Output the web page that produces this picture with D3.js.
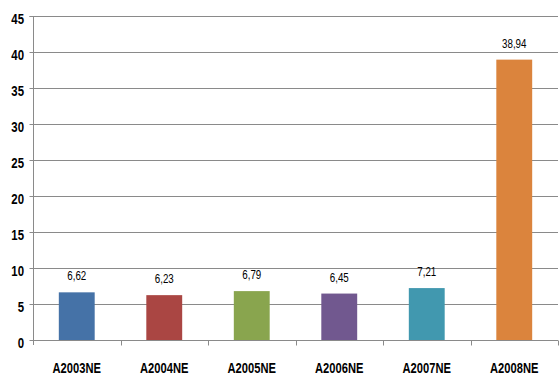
<!DOCTYPE html>
<html><head><meta charset="utf-8">
<script src="https://cdn.jsdelivr.net/npm/d3@7"></script>
<style>html,body{margin:0;padding:0;background:#fff;}svg{display:block;}</style>
</head><body>
<svg id="c" width="559" height="376"></svg>
<script>
const categories = ["A2003NE","A2004NE","A2005NE","A2006NE","A2007NE","A2008NE"];
const values = [6.62, 6.23, 6.79, 6.45, 7.21, 38.94];
const valueLabels = ["6,62","6,23","6,79","6,45","7,21","38,94"];
const colors = ["#4572A7","#AA4643","#89A54E","#71588F","#4198AF","#DB843D"];
const yTicks = [0,5,10,15,20,25,30,35,40,45];

(function(){
const svg = d3.select("#c");
const mL = 33, mR = 558, mT = 16, mB = 340;
const font = "'Liberation Sans',Arial,sans-serif";
function squeeze(sel, f){
  sel.each(function(){
    const w = this.getComputedTextLength();
    d3.select(this).attr("textLength", (w*f).toFixed(2)).attr("lengthAdjust","spacingAndGlyphs");
  });
}

const x = d3.scaleBand().domain(categories).range([mL, mR]).paddingInner(0.59).paddingOuter(0.295);
const y = d3.scaleLinear().domain([0,45]).range([mB, mT]);

svg.append("g").selectAll("line").data(yTicks.filter(d=>d>0)).join("line")
  .attr("x1", mL).attr("x2", mR)
  .attr("y1", d=>y(d)+0.5).attr("y2", d=>y(d)+0.5)
  .attr("stroke", "#8a8a8a").attr("stroke-width", 1);

const yAxis = svg.append("g").attr("transform", `translate(${mL+0.5},0)`)
  .call(d3.axisLeft(y).tickValues(yTicks).tickSize(4).tickFormat(d3.format("d")));
yAxis.select(".domain").attr("stroke","#8a8a8a").attr("d", `M-4,${y(45)+0.5}H0V${mB+5}`);
yAxis.selectAll(".tick line").attr("stroke","#8a8a8a");
const yt = yAxis.selectAll(".tick text").attr("x", -9.5).attr("y", 2).attr("dy","0.36em")
  .style("font-family", font).style("font-size","15px").style("font-weight","bold").attr("fill","#000");
squeeze(yt, 0.76);

svg.append("g").selectAll("rect").data(values).join("rect")
  .attr("x", (d,i)=>x(categories[i]))
  .attr("width", x.bandwidth())
  .attr("y", d=>y(d))
  .attr("height", d=>mB - y(d))
  .attr("fill", (d,i)=>colors[i]);

const xb = d3.scaleLinear().domain([0,6]).range([mL,mR]);
const xAxis = svg.append("g").attr("transform", `translate(0,${mB+0.5})`);
xAxis.append("line").attr("x1", mL).attr("x2", mR).attr("stroke","#8a8a8a");
xAxis.selectAll("line.t").data(d3.range(1,7)).join("line").attr("class","t")
  .attr("x1", d=>Math.round(xb(d))+0.5).attr("x2", d=>Math.round(xb(d))+0.5)
  .attr("y1",0).attr("y2",5).attr("stroke","#8a8a8a");
const xt = xAxis.selectAll("text").data(categories).join("text")
  .attr("x", d=>x(d)+x.bandwidth()/2).attr("y", 32)
  .attr("text-anchor","middle")
  .style("font-family", font).style("font-size","14.5px").style("font-weight","bold")
  .text(d=>d);
squeeze(xt, 0.77);

const vt = svg.append("g").selectAll("text").data(values).join("text")
  .attr("x", (d,i)=>x(categories[i])+x.bandwidth()/2)
  .attr("y", d=>y(d)-12)
  .attr("text-anchor","middle")
  .style("font-family", font).style("font-size","12.5px").attr("fill","#000")
  .text((d,i)=>valueLabels[i]);
squeeze(vt, 0.78);
})();
</script>
</body></html>
